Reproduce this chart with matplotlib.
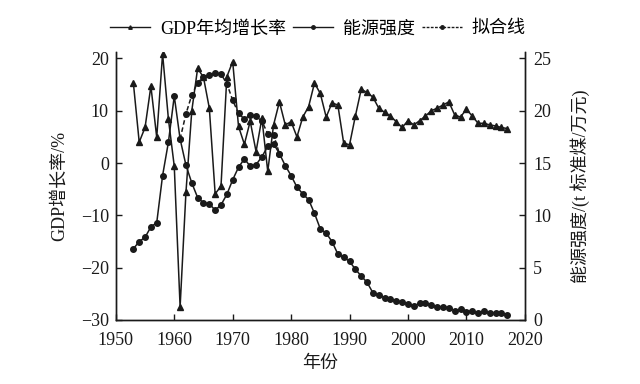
import matplotlib
matplotlib.use("Agg")
import matplotlib.pyplot as plt
from matplotlib.lines import Line2D

plt.rcParams['font.family'] = ['Liberation Serif', 'Noto Sans CJK SC']
plt.rcParams['axes.unicode_minus'] = True

years = list(range(1953, 2018))
gdp_growth = [15.3, 4.0, 6.8, 14.7, 4.9, 20.9, 8.4, -0.6, -27.5, -5.6,
              10.0, 18.1, 16.4, 10.5, -5.9, -4.4, 16.5, 19.4, 7.0, 3.6,
              8.0, 2.2, 8.6, -1.6, 7.3, 11.7, 7.3, 7.9, 5.0, 8.8,
              10.8, 15.3, 13.3, 8.8, 11.5, 11.1, 3.8, 3.5, 9.0, 14.1,
              13.5, 12.6, 10.5, 9.7, 9.0, 7.9, 6.8, 8.1, 7.3, 8.1,
              9.0, 10.0, 10.5, 11.1, 11.7, 9.2, 8.8, 10.3, 9.0, 7.6,
              7.6, 7.3, 7.1, 6.8, 6.6]
energy_intensity = [6.8, 7.5, 7.9, 8.9, 9.3, 13.8, 17.0, 21.4, 17.3, 14.8,
                    13.1, 11.7, 11.2, 11.1, 10.5, 11.0, 12.0, 13.4, 14.6, 15.4,
                    14.7, 14.85, 15.6, 16.6, 16.85, 15.9, 14.75, 13.8, 12.7, 12.05,
                    11.5, 10.2, 8.7, 8.3, 7.5, 6.3, 6.0, 5.6, 4.85, 4.2,
                    3.6, 2.6, 2.4, 2.13, 2.0, 1.85, 1.7, 1.53, 1.34, 1.6,
                    1.6, 1.43, 1.21, 1.27, 1.18, 0.89, 1.02, 0.8, 0.86, 0.64,
                    0.89, 0.64, 0.7, 0.7, 0.48]
fit_years = list(range(1961, 1979))
fit_values = [17.3, 19.7, 21.5, 22.7, 23.2, 23.4, 23.6, 23.5, 22.6, 21.0,
              19.75, 19.2, 19.6, 19.5, 19.0, 17.8, 17.7, 15.9]

x_ticks = [1950, 1960, 1970, 1980, 1990, 2000, 2010, 2020]
left_ticks = [-30, -20, -10, 0, 10, 20]
right_ticks = [0, 5, 10, 15, 20, 25]

labels = ['GDP年均增长率', '能源强度', '拟合线']

ink = '#1a1a1a'
fs = 13

fig = plt.figure(figsize=(6.4, 3.84), dpi=100)
ax = fig.add_axes([0.181, 0.1667, 0.639, 0.698])
ax2 = ax.twinx()

ax.plot(years, gdp_growth, color=ink, lw=1.1, marker='^', ms=4.0, zorder=3)
ax2.plot(fit_years, fit_values, color=ink, lw=1.1, ls=(0, (3, 1.8)), marker='o', ms=4.0, zorder=2)
ax2.plot(years, energy_intensity, color=ink, lw=1.1, marker='o', ms=4.0, zorder=3)

ax.set_xlim(1950, 2020)
ax.set_ylim(-30, 21.24)
ax2.set_ylim(0, 25.62)
ax.set_xticks(x_ticks)
ax.set_yticks(left_ticks)
ax2.set_yticks(right_ticks)

for a in (ax, ax2):
    a.spines['top'].set_visible(False)
    for s in a.spines.values():
        s.set_color(ink)
        s.set_linewidth(1.0)
    a.tick_params(direction='in', length=4, width=1.0, colors=ink, labelsize=fs, labelcolor=ink)
ax.tick_params(axis='x', pad=9)
ax.tick_params(axis='y', pad=5)
ax2.tick_params(axis='y', pad=6)

ax.set_xlabel('年份', fontsize=fs, color=ink, labelpad=4)
ax.set_ylabel('GDP增长率/%', fontsize=fs, color=ink, labelpad=9)
ax2.set_ylabel('能源强度/(t 标准煤/万元)', fontsize=fs, color=ink, labelpad=14)

handles = [
    Line2D([], [], color=ink, lw=1.0, marker='^', ms=2.5),
    Line2D([], [], color=ink, lw=1.0, marker='o', ms=2.5),
    Line2D([], [], color=ink, lw=1.0, ls=(0, (2, 1)), marker='o', ms=2.5),
]
fig.legend(handles, labels, loc='center', bbox_to_anchor=(0.497, 0.925), ncol=3,
           frameon=False, fontsize=fs, handlelength=2.2, handletextpad=0.55,
           columnspacing=0.4)

fig.savefig('out.png', dpi=100)
